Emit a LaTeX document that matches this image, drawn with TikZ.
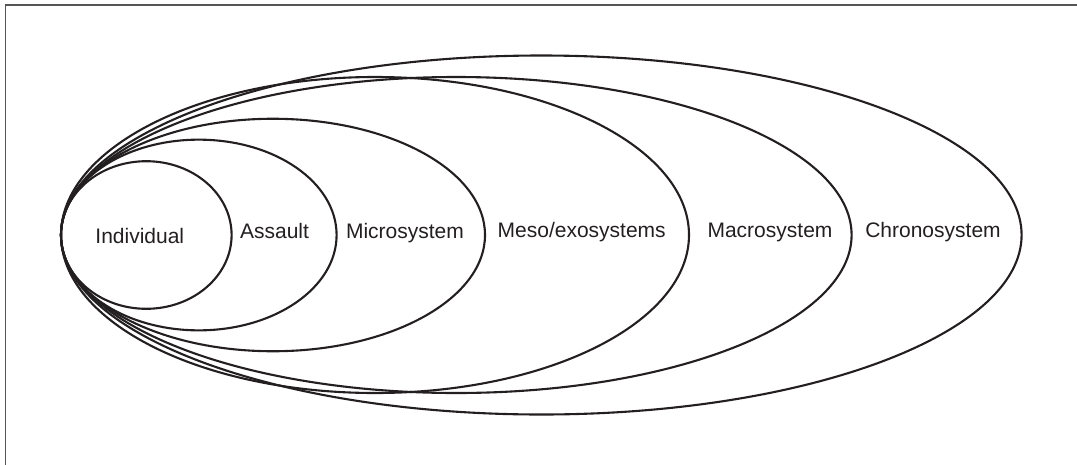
\documentclass[tikz,border=0pt]{standalone}
\usepackage{fontspec}
\setmainfont{Liberation Sans}
\usetikzlibrary{shapes.geometric}
\definecolor{ink}{HTML}{231F20}
\definecolor{framegray}{HTML}{555555}
\tikzset{
  ring/.style={ellipse, draw=ink, line width=2.1pt, inner sep=0pt, outer sep=0pt},
  lbl/.style={anchor=base, text=ink, font=\fontsize{21}{24}\selectfont, inner sep=0pt}
}
\begin{document}
\begin{tikzpicture}[x=1pt,y=-1pt]
\useasboundingbox (0,0) rectangle (1077,464);
\begin{scope}
\clip (0,0) rectangle (1077,464);
\draw[framegray, line width=1.3pt] (5.5,5) rectangle (1200,600);
\end{scope}
% nested rings, all tangent at the left
\node[ring, minimum width=960.6pt, minimum height=359pt] (chrono) at (541.3,235) {};
\node[ring, minimum width=790.6pt, minimum height=316pt] (macro) at (456.3,235) {};
\node[ring, minimum width=628pt, minimum height=316pt] (meso) at (375,235) {};
\node[ring, minimum width=424pt, minimum height=232.5pt] (micro) at (273,235) {};
\node[ring, minimum width=275.6pt, minimum height=190.7pt] (assault) at (198.8,235) {};
\node[ring, minimum width=170.6pt, minimum height=147.6pt] (indiv) at (146.3,235) {};
% labels
\node[lbl] (tindiv) at (139.8,243.3) {Individual};
\node[lbl] (tassault) at (274.5,238.3) {Assault};
\node[lbl] (tmicro) at (405,238.3) {Microsystem};
\node[lbl] (tmeso) at (581.7,237) {Meso/exosystems};
\node[lbl] (tmacro) at (770,237) {Macrosystem};
\node[lbl] (tchrono) at (933,237) {Chronosystem};
\end{tikzpicture}
\end{document}
